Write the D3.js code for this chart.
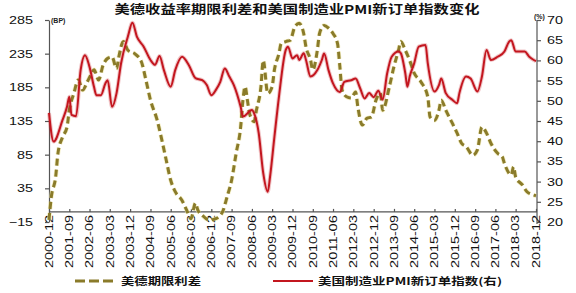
<!DOCTYPE html>
<html>
<head>
<meta charset="utf-8">
<script src="https://cdn.jsdelivr.net/npm/d3@7/dist/d3.min.js"></script>
<style>
  body { margin: 0; background: #fff; }
  svg { display: block; font-family: "Liberation Sans", Arial, sans-serif; }
  .cjk { font-family: "Noto Sans CJK SC", sans-serif; }
  .axis path, .axis line { stroke: #555; stroke-width: 1.2; }
  .axis text { fill: #111; font-size: 11px; }
</style>
</head>
<body>
<script>
// 美德期限利差 (BP, left axis)
var spreadDates = ["2000-12","2001-01","2001-03","2001-04","2001-06","2001-08","2001-09","2001-11",
  "2002-01","2002-03","2002-05","2002-07","2002-08","2002-10","2002-12","2003-02","2003-04","2003-06",
  "2003-07","2003-09","2003-11","2004-02","2004-05","2004-07","2004-09","2004-12","2005-02","2005-04",
  "2005-06","2005-08","2005-11","2006-01","2006-03","2006-05","2006-06","2006-08","2006-11","2007-02",
  "2007-05","2007-07","2007-09","2007-11","2008-01","2008-02","2008-03","2008-04","2008-05","2008-07",
  "2008-08","2008-10","2008-11","2009-01","2009-03","2009-04","2009-06","2009-07","2009-09","2009-11",
  "2010-01","2010-03","2010-05","2010-06","2010-08","2010-09","2010-11","2010-12","2011-02","2011-04",
  "2011-06","2011-08","2011-09","2011-10","2011-12","2012-02","2012-04","2012-05","2012-07","2012-09",
  "2012-11","2013-01","2013-03","2013-04","2013-07","2013-09","2013-11","2013-12","2014-02","2014-04",
  "2014-06","2014-09","2014-12","2015-01","2015-03","2015-05","2015-06","2015-08","2015-11","2016-01",
  "2016-03","2016-05","2016-08","2016-10","2016-12","2017-02","2017-04","2017-07","2017-09","2017-10",
  "2018-01","2018-02","2018-03","2018-06","2018-08","2018-11","2018-12"];
var spreadValues = [-12,22,52,87,111,126,151,176,
  196,181,193,206,211,196,218,228,230,213,
  230,253,240,235,223,196,166,136,107,77,
  47,30,17,3,-10,13,3,-5,-12,-10,
  0,22,47,87,126,166,186,166,146,134,
  151,186,225,176,186,211,235,250,253,255,
  275,280,265,245,226,211,240,265,277,273,
  265,250,216,181,171,169,178,156,129,139,
  141,166,176,151,186,216,240,253,240,225,
  206,193,171,141,136,151,166,151,131,117,
  102,97,84,92,126,117,102,87,82,72,
  55,67,52,40,30,25,24];

// 美国制造业PMI新订单指数 (%, right axis)
var pmiDates = ["2000-12","2001-02","2001-06","2001-08","2001-09","2001-10","2001-12","2002-02",
  "2002-04","2002-06","2002-08","2002-09","2002-11","2003-01","2003-02","2003-04","2003-06","2003-08",
  "2003-11","2004-01","2004-03","2004-06","2004-09","2004-11","2005-01","2005-03","2005-06","2005-08",
  "2005-11","2006-02","2006-05","2006-08","2006-10","2006-12","2007-02","2007-04","2007-06","2007-08",
  "2007-10","2008-01","2008-02","2008-06","2008-07","2008-09","2008-11","2009-01","2009-02","2009-04",
  "2009-06","2009-09","2009-10","2009-12","2010-02","2010-03","2010-05","2010-06","2010-08","2010-11",
  "2011-01","2011-02","2011-04","2011-06","2011-09","2011-11","2012-02","2012-04","2012-06","2012-08",
  "2012-10","2012-12","2013-02","2013-04","2013-06","2013-08","2013-11","2013-12","2014-02","2014-03",
  "2014-04","2014-06","2014-08","2014-11","2014-12","2015-03","2015-05","2015-06","2015-08","2015-11",
  "2016-01","2016-02","2016-05","2016-07","2016-10","2016-12","2017-02","2017-04","2017-07","2017-10",
  "2017-12","2018-01","2018-03","2018-05","2018-07","2018-09","2018-11","2018-12"];
var pmiValues = [47.0,39.9,45.2,48.5,51.0,46.5,46.2,57.6,
  61.3,58.4,53.4,51.4,51.4,54.3,55.1,48.5,51.9,59.3,
  65.9,69.3,65.9,63.4,60.1,58.9,61.1,57.6,53.5,57.6,
  60.9,58.8,55.6,55.1,53.9,51.4,52.7,54.7,58.0,56.0,
  53.9,48.5,46.1,47.7,46.9,42.0,32.1,27.5,31.2,41.1,
  51.0,62.6,63.4,60.5,61.3,60.1,61.8,60.1,56.0,57.6,
  60.1,61.7,57.6,54.3,52.2,54.7,55.1,55.5,53.1,50.6,
  51.9,50.9,52.5,50.3,56.8,60.9,62.2,61.8,56.8,53.5,
  56.0,59.3,63.4,63.8,59.3,52.3,53.9,55.5,51.9,50.2,
  49.4,51.9,56.0,55.5,52.3,56.0,62.6,60.1,60.9,62.2,
  64.6,65.0,62.2,62.2,62.2,60.9,60.1,59.8];

var xTickLabels = ["2000-12","2001-09","2002-06","2003-03","2003-12","2004-09","2005-06","2006-03",
  "2006-12","2007-09","2008-06","2009-03","2009-12","2010-09","2011-06","2012-03","2012-12","2013-09",
  "2014-06","2015-03","2015-12","2016-09","2017-06","2018-03","2018-12"];
var leftTicks = [-15, 35, 85, 135, 185, 235, 285];
var rightTicks = [20, 25, 30, 35, 40, 45, 50, 55, 60, 65, 70];

var title = "美德收益率期限利差和美国制造业PMI新订单指数变化";
var seriesNames = ["美德期限利差", "美国制造业PMI新订单指数(右)"];

var width = 576, height = 293;
var plotLeft = 49, plotRight = 537, plotTop = 20, plotBottom = 222;
var red = "#c3161f", olive = "#8a7b2a";

var parse = d3.timeParse("%Y-%m");

var x = d3.scaleTime()
    .domain([parse("2000-12"), parse("2018-12")])
    .range([plotLeft, plotRight - 1]);
var yL = d3.scaleLinear().domain([-15, 285]).range([plotBottom, plotTop]);
var yR = d3.scaleLinear().domain([20, 70]).range([plotBottom, plotTop]);

var svg = d3.select("body").append("svg")
    .attr("width", width)
    .attr("height", height);

// title
svg.append("text")
    .attr("class", "cjk")
    .attr("x", 297)
    .attr("y", 14)
    .attr("text-anchor", "middle")
    .attr("font-size", 12)
    .attr("font-weight", "bold")
    .attr("fill", "#111")
    .attr("textLength", 365)
    .attr("lengthAdjust", "spacingAndGlyphs")
    .text(title);

// unit labels
svg.append("text")
    .attr("x", 51).attr("y", 23)
    .attr("font-size", 7).attr("font-weight", "bold").attr("fill", "#222")
    .text("(BP)");
svg.append("text")
    .attr("x", 534).attr("y", 19)
    .attr("font-size", 7).attr("font-weight", "bold").attr("fill", "#222")
    .text("(%)");

// left axis
var gL = svg.append("g")
    .attr("class", "axis")
    .attr("transform", "translate(" + plotLeft + ",0)")
    .call(d3.axisLeft(yL).tickValues(leftTicks).tickSize(4).tickPadding(12).tickSizeOuter(0));
gL.selectAll("text")
    .attr("textLength", function(d) { return d < 0 || d >= 100 ? 24 : 16; })
    .attr("lengthAdjust", "spacingAndGlyphs");

// right axis
var gR = svg.append("g")
    .attr("class", "axis")
    .attr("transform", "translate(" + plotRight + ",0)")
    .call(d3.axisRight(yR).tickValues(rightTicks).tickSize(4).tickPadding(6).tickSizeOuter(0));
gR.selectAll("text")
    .attr("textLength", 16)
    .attr("lengthAdjust", "spacingAndGlyphs");
gR.select(".domain").attr("d", "M0," + plotTop + "V" + (plotBottom + 2));

// x axis at spread = 0
var gX = svg.append("g")
    .attr("class", "axis")
    .attr("transform", "translate(0," + yL(0) + ")")
    .call(d3.axisTop(x).tickValues(xTickLabels.map(parse)).tickSize(3).tickSizeOuter(0).tickFormat(""));
gX.select(".domain").attr("d", "M" + plotLeft + ",0H" + plotRight);

svg.append("g")
  .selectAll("text")
    .data(xTickLabels)
  .enter().append("text")
    .attr("transform", function(d) { return "translate(" + x(parse(d)) + "," + 215 + ") rotate(-90)"; })
    .attr("dy", "0.35em")
    .attr("text-anchor", "end")
    .attr("font-size", 11)
    .attr("fill", "#111")
    .attr("textLength", 53)
    .attr("lengthAdjust", "spacingAndGlyphs")
    .text(function(d) { return d; });

// lines
var spread = spreadDates.map(function(d, i) { return [parse(d), spreadValues[i]]; });
var pmi = pmiDates.map(function(d, i) { return [parse(d), pmiValues[i]]; });

var lineL = d3.line()
    .x(function(d) { return x(d[0]); })
    .y(function(d) { return yL(d[1]); })
    .curve(d3.curveMonotoneX);
var lineR = d3.line()
    .x(function(d) { return x(d[0]); })
    .y(function(d) { return yR(d[1]); })
    .curve(d3.curveMonotoneX);

svg.append("path")
    .attr("d", lineL(spread))
    .attr("fill", "none")
    .attr("stroke", "#efe6a0")
    .attr("stroke-width", 4.5)
    .attr("stroke-dasharray", "7,4")
    .attr("opacity", 0.6);
svg.append("path")
    .attr("d", lineL(spread))
    .attr("fill", "none")
    .attr("stroke", olive)
    .attr("stroke-width", 3)
    .attr("stroke-dasharray", "7,4");

svg.append("path")
    .attr("d", lineR(pmi))
    .attr("fill", "none")
    .attr("stroke", red)
    .attr("stroke-opacity", 0.25)
    .attr("stroke-width", 4);
svg.append("path")
    .attr("d", lineR(pmi))
    .attr("fill", "none")
    .attr("stroke", red)
    .attr("stroke-width", 2);

// legend
var legend = svg.append("g").attr("class", "legend");
legend.append("line")
    .attr("x1", 75).attr("x2", 116).attr("y1", 281).attr("y2", 281)
    .attr("stroke", olive).attr("stroke-width", 3).attr("stroke-dasharray", "10,4");
legend.append("text")
    .attr("class", "cjk")
    .attr("x", 121).attr("y", 285)
    .attr("font-size", 10).attr("font-weight", "bold").attr("fill", "#111")
    .attr("textLength", 80).attr("lengthAdjust", "spacingAndGlyphs")
    .text(seriesNames[0]);
legend.append("line")
    .attr("x1", 273).attr("x2", 313).attr("y1", 281).attr("y2", 281)
    .attr("stroke", red).attr("stroke-width", 2);
legend.append("text")
    .attr("class", "cjk")
    .attr("x", 318).attr("y", 285)
    .attr("font-size", 10).attr("font-weight", "bold").attr("fill", "#111")
    .attr("textLength", 184).attr("lengthAdjust", "spacingAndGlyphs")
    .text(seriesNames[1]);
</script>
</body>
</html>
